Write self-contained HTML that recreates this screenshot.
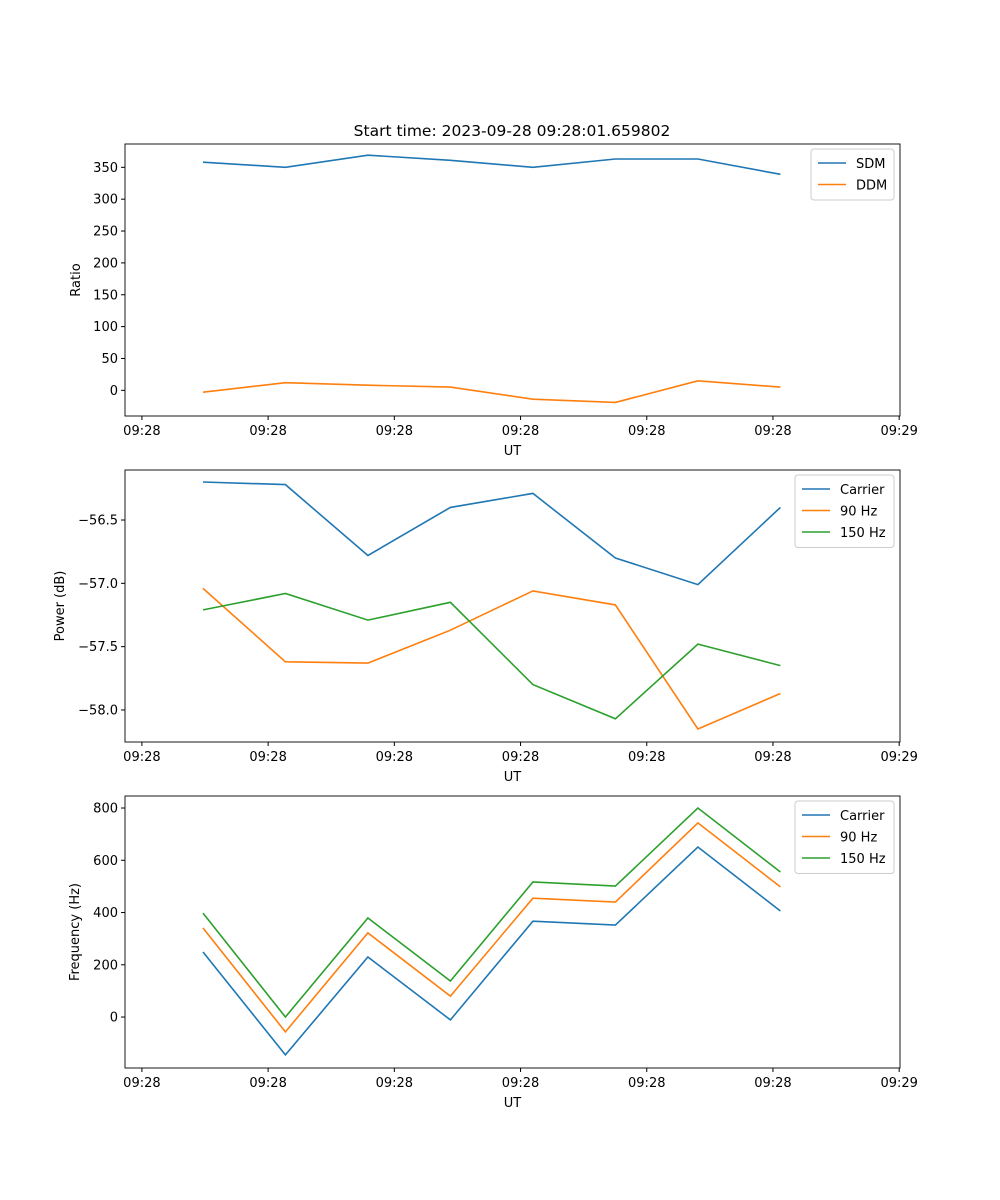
<!DOCTYPE html>
<html><head><meta charset="utf-8"><style>
html,body{margin:0;padding:0;background:#fff;}
svg{display:block;font-family:"DejaVu Sans","Liberation Sans",sans-serif;}
</style></head><body>
<svg id="c" width="1000" height="1200"></svg>
<script>
const xTickLabels = ["09:28","09:28","09:28","09:28","09:28","09:28","09:29"];
const xTicks = [-0.74,0.79,2.32,3.85,5.38,6.91,8.44];
const sampleIdx = [0,1,2,3,4,5,6,7];
const sdm = [358,350,369,361,350,363,363,339];
const ddm = [-3,12,8,5,-14,-19,15,5];
const powCarrier = [-56.20,-56.22,-56.78,-56.40,-56.29,-56.80,-57.01,-56.40];
const pow90 = [-57.04,-57.62,-57.63,-57.37,-57.06,-57.17,-58.15,-57.87];
const pow150 = [-57.21,-57.08,-57.29,-57.15,-57.80,-58.07,-57.48,-57.65];
const freqCarrier = [249,-145,230,-11,367,352,651,406];
const freq90 = [341,-57,322,80,455,440,743,498];
const freq150 = [398,0,379,138,517,501,800,555];
const ratioTicks = [0,50,100,150,200,250,300,350];
const powTicks = [-58.0,-57.5,-57.0,-56.5];
const powTickLabels = ["\u221258.0","\u221257.5","\u221257.0","\u221256.5"];
const freqTicks = [0,200,400,600,800];

const NS="http://www.w3.org/2000/svg";
const svg=document.getElementById('c');
function mk(t,a,p){const e=document.createElementNS(NS,t);for(const k in a)e.setAttribute(k,a[k]);(p||svg).appendChild(e);return e;}
const L=125,R=900,xmin=-0.945,xmax=8.45;
const sx=v=>L+(v-xmin)/(xmax-xmin)*(R-L);
const C=['#1f77b4','#ff7f0e','#2ca02c'];

function panel(name,top,bot,ymin,ymax,yt,ytl,ylabel,series,legW){
  const g=mk('g',{});
  
  
  const sy=v=>bot-(v-ymin)/(ymax-ymin)*(bot-top);
  series.forEach((s,i)=>{
    const pts=sampleIdx.map((x,j)=>sx(x).toFixed(1)+','+sy(s.v[j]).toFixed(1)).join(' ');
    const pl=mk('polyline',{points:pts,fill:'none',stroke:C[i],'stroke-width':1.6},g);
    
    
  });
  mk('rect',{x:L,y:top,width:R-L,height:bot-top,fill:'none',stroke:'#000','stroke-width':0.9},g);
  xTicks.forEach((t,i)=>{
    const x=sx(t);
    mk('line',{x1:x,x2:x,y1:bot,y2:bot+4,stroke:'#000'},g);
    const tx=mk('text',{x:x,y:bot+19,'font-size':13,'text-anchor':'middle'},g);tx.textContent=xTickLabels[i];
    
    
  });
  yt.forEach((t,i)=>{
    const y=sy(t);
    mk('line',{x1:L-4,x2:L,y1:y,y2:y,stroke:'#000'},g);
    const tx=mk('text',{x:L-7,y:y+4.5,'font-size':13,'text-anchor':'end'},g);tx.textContent=ytl?ytl[i]:String(t);
    
    
  });
  const xl=mk('text',{x:(L+R)/2,y:bot+39,'font-size':13,'text-anchor':'middle'},g);xl.textContent='UT';
  
  
  const yx=ylabel.x, ym=(top+bot)/2;
  const yl=mk('text',{x:yx,y:ym,'font-size':13,'text-anchor':'middle',transform:`rotate(-90 ${yx} ${ym})`},g);yl.textContent=ylabel.t;
  
  
  const lx=R-6-legW, ly=top+5, lh=8+series.length*21.5;
  const lg=mk('g',{},g);
  
  
  mk('rect',{x:lx,y:ly,width:legW,height:lh,rx:3,fill:'#fff','fill-opacity':0.8,stroke:'#ccc'},lg);
  series.forEach((s,i)=>{
    const y=ly+14+i*21.5;
    mk('line',{x1:lx+7,x2:lx+35,y1:y,y2:y,stroke:C[i],'stroke-width':1.6},lg);
    const t=mk('text',{x:lx+45,y:y+5,'font-size':13},lg);t.textContent=s.id;
    
    
  });
}
const title=mk('text',{x:512,y:136,'font-size':15.5,'text-anchor':'middle'});
title.textContent='Start time: 2023-09-28 09:28:01.659802';


panel('ratio-panel',144,416,-40.3,386.6,ratioTicks,null,{x:80,t:'Ratio'},[{id:'SDM',v:sdm},{id:'DDM',v:ddm}],83);
panel('power-panel',470,742,-58.253,-56.105,powTicks,powTickLabels,{x:64,t:'Power (dB)'},[{id:'Carrier',v:powCarrier},{id:'90 Hz',v:pow90},{id:'150 Hz',v:pow150}],99);
panel('frequency-panel',796,1068,-195,846,freqTicks,null,{x:79,t:'Frequency (Hz)'},[{id:'Carrier',v:freqCarrier},{id:'90 Hz',v:freq90},{id:'150 Hz',v:freq150}],99);
</script>
</body></html>
